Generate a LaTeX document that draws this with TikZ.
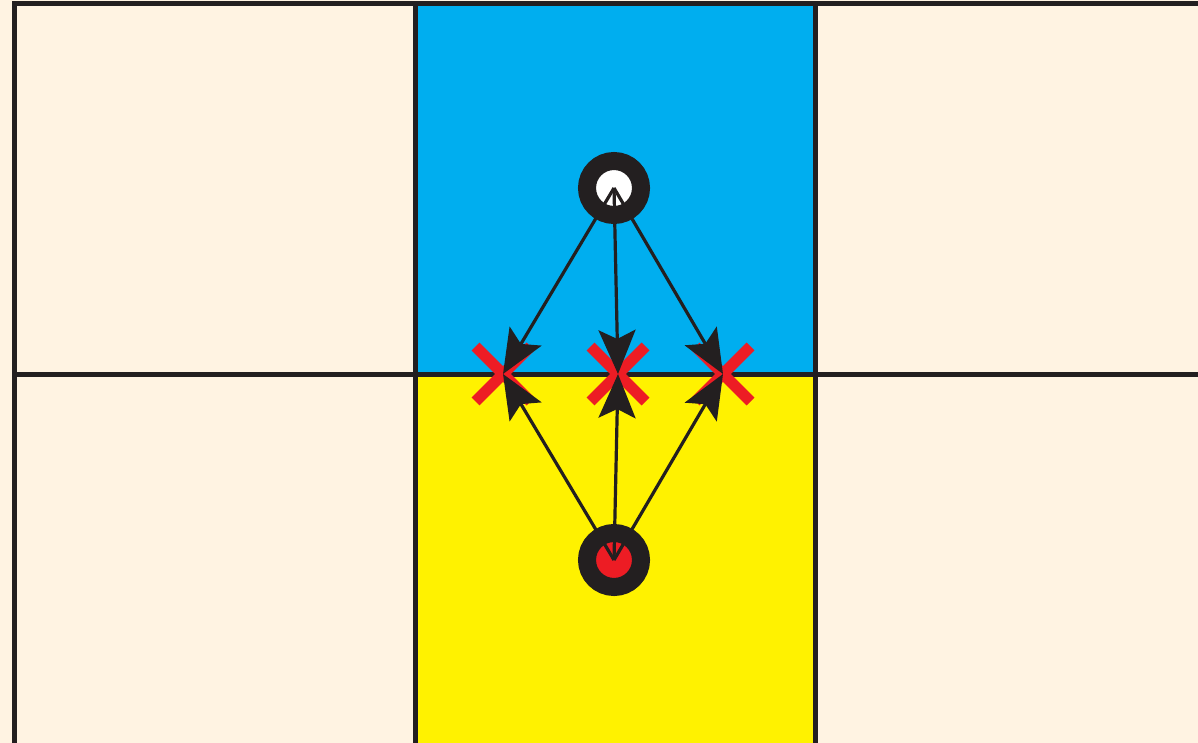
\documentclass[tikz,border=0pt]{standalone}
\usepackage{tikz}
\usetikzlibrary{arrows.meta,shapes.misc}
\definecolor{paper}{HTML}{FFF3E2}
\definecolor{sky}{HTML}{00AEEF}
\definecolor{sun}{HTML}{FFF200}
\definecolor{ink}{HTML}{231F20}
\definecolor{hit}{HTML}{ED1C24}

\begin{document}
\begin{tikzpicture}[x=1pt, y=-1pt,
  grid/.style={draw=ink, line width=5pt},
  dot/.style={circle, minimum size=54pt, inner sep=0pt, draw=ink, line width=18pt},
  miss/.style={cross out, draw=hit, line width=11pt, minimum size=44pt, inner sep=0pt},
  conn/.style={-{Stealth[length=44pt, width=37pt, inset=9pt]}, ink, line width=3.2pt}
]
  \useasboundingbox (0,0) rectangle (1198,743);
  \fill[paper] (0,0) rectangle (1198,743);
  \fill[sky] (415,3.5) rectangle (815,374);
  \fill[sun] (415,374) rectangle (815,743);
  % grid
  \draw[grid] (14,746) -- (14,3.5) -- (1200,3.5);
  \draw[grid] (14,374) -- (1200,374);
  \draw[grid] (415,3.5) -- (415,746);
  \draw[grid] (815,3.5) -- (815,746);

  \node[dot, fill=white] (src) at (614,188) {};
  \node[dot, fill=hit] (snk) at (614,560) {};
  \node[miss] (xl) at (503,374) {};
  \node[miss] (xm) at (618,374) {};
  \node[miss] (xr) at (723,374) {};

  \foreach \t in {xl,xm,xr} {
    \draw[conn] (src.center) -- (\t.center);
    \draw[conn] (snk.center) -- (\t.center);
  }
\end{tikzpicture}
\end{document}
